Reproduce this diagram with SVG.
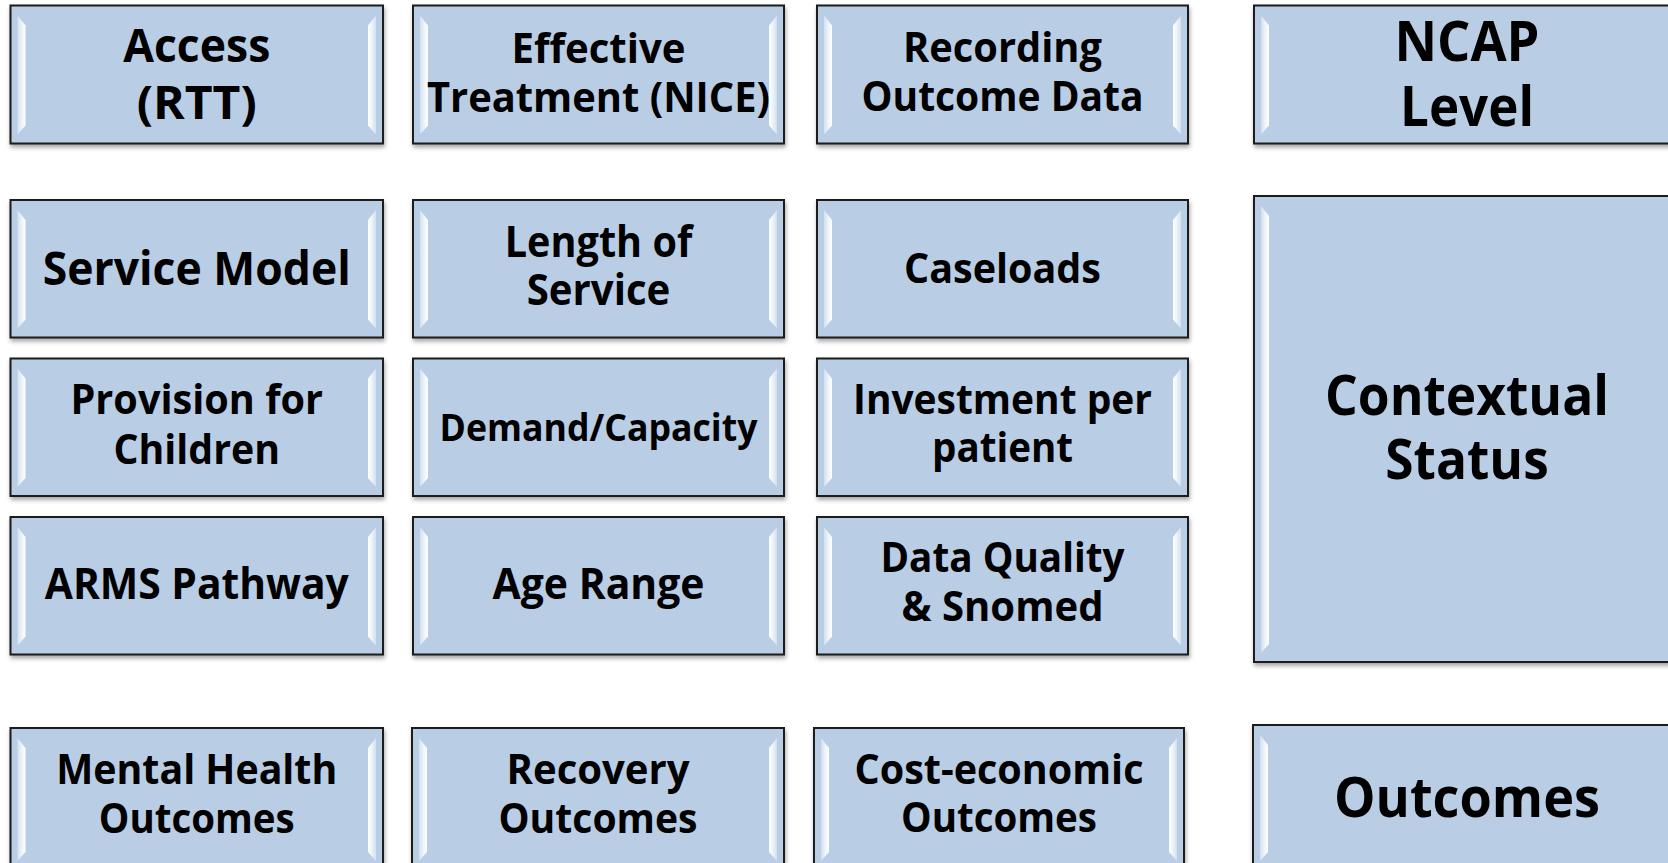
<svg xmlns="http://www.w3.org/2000/svg" width="1668" height="863" viewBox="0 0 1668 863">
<defs>
<filter id="sh" x="-5%" y="-5%" width="110%" height="115%">
<feDropShadow dx="1" dy="3" stdDeviation="2" flood-color="#000" flood-opacity="0.35"/>
</filter>
<linearGradient id="gl" x1="0" y1="0" x2="1" y2="0">
<stop offset="0" stop-color="#d3e0ef"/>
<stop offset="0.55" stop-color="#eef4fa"/>
<stop offset="1" stop-color="#ffffff"/>
</linearGradient>
<linearGradient id="gr" x1="0" y1="0" x2="1" y2="0">
<stop offset="0" stop-color="#ffffff"/>
<stop offset="0.45" stop-color="#eef4fa"/>
<stop offset="1" stop-color="#d3e0ef"/>
</linearGradient>
<style>
.box{fill:#B9CDE5;stroke:#1a1a1a;stroke-width:2;filter:url(#sh)}
.bl{fill:url(#gl)}
.br{fill:url(#gr)}
.t{font-family:"Open Sans","Noto Sans","Liberation Sans",sans-serif;font-weight:700;text-anchor:middle;fill:#000}
</style>
</defs>
<rect width="1668" height="863" fill="#fff"/>
<g id="connectors"></g>

<g id="access">
<rect class="box" x="10.5" y="5.5" width="372.5" height="138"/>
<polygon class="bl" points="17.5,15.5 25.5,25.5 25.5,125.5 17.5,134.5"/>
<polygon class="br" points="368,25.5 376,15.5 376,134.5 368,125.5"/>
<text class="t" font-size="46.9"><tspan x="196.75" y="62" textLength="147" lengthAdjust="spacingAndGlyphs">Access</tspan><tspan x="196.75" y="119" textLength="120" lengthAdjust="spacingAndGlyphs">(RTT)</tspan></text>
</g>

<g id="effective">
<rect class="box" x="413" y="5.5" width="371" height="138"/>
<polygon class="bl" points="420,15.5 428,25.5 428,125.5 420,134.5"/>
<polygon class="br" points="769,25.5 777,15.5 777,134.5 769,125.5"/>
<text class="t" font-size="41.8"><tspan x="598.5" y="62.5" textLength="174" lengthAdjust="spacingAndGlyphs">Effective</tspan><tspan x="598.5" y="111.5" textLength="343" lengthAdjust="spacingAndGlyphs">Treatment (NICE)</tspan></text>
</g>

<g id="recording">
<rect class="box" x="817" y="5.5" width="371" height="138"/>
<polygon class="bl" points="824,15.5 832,25.5 832,125.5 824,134.5"/>
<polygon class="br" points="1173,25.5 1181,15.5 1181,134.5 1173,125.5"/>
<text class="t" font-size="41.6"><tspan x="1002.5" y="62" textLength="199" lengthAdjust="spacingAndGlyphs">Recording</tspan><tspan x="1002.5" y="111" textLength="282" lengthAdjust="spacingAndGlyphs">Outcome Data</tspan></text>
</g>

<g id="ncap">
<rect class="box" x="1254" y="5.5" width="428" height="138"/>
<polygon class="bl" points="1261,15.5 1269,25.5 1269,125.5 1261,134.5"/>
<text class="t" font-size="54.8"><tspan x="1467" y="61" textLength="145" lengthAdjust="spacingAndGlyphs">NCAP</tspan><tspan x="1467" y="126" textLength="134" lengthAdjust="spacingAndGlyphs">Level</tspan></text>
</g>

<g id="service-model">
<rect class="box" x="10.5" y="200" width="372.5" height="137.5"/>
<polygon class="bl" points="17.5,210 25.5,220 25.5,319.5 17.5,328.5"/>
<polygon class="br" points="368,220 376,210 376,328.5 368,319.5"/>
<text class="t" font-size="46"><tspan x="196.75" y="285" textLength="308" lengthAdjust="spacingAndGlyphs">Service Model</tspan></text>
</g>

<g id="length-of-service">
<rect class="box" x="413" y="200" width="371" height="137.5"/>
<polygon class="bl" points="420,210 428,220 428,319.5 420,328.5"/>
<polygon class="br" points="769,220 777,210 777,328.5 769,319.5"/>
<text class="t" font-size="42.4"><tspan x="598.5" y="257" textLength="187.5" lengthAdjust="spacingAndGlyphs">Length of</tspan><tspan x="598.5" y="305" textLength="143.5" lengthAdjust="spacingAndGlyphs">Service</tspan></text>
</g>

<g id="caseloads">
<rect class="box" x="817" y="200" width="371" height="137.5"/>
<polygon class="bl" points="824,210 832,220 832,319.5 824,328.5"/>
<polygon class="br" points="1173,220 1181,210 1181,328.5 1173,319.5"/>
<text class="t" font-size="41.9"><tspan x="1002.5" y="283" textLength="197" lengthAdjust="spacingAndGlyphs">Caseloads</tspan></text>
</g>

<g id="contextual-status">
<rect class="box" x="1254" y="196" width="428" height="466"/>
<polygon class="bl" points="1261,206 1269,216 1269,644 1261,653"/>
<text class="t" font-size="55.4"><tspan x="1467" y="415" textLength="284" lengthAdjust="spacingAndGlyphs">Contextual</tspan><tspan x="1467" y="479" textLength="163.5" lengthAdjust="spacingAndGlyphs">Status</tspan></text>
</g>

<g id="provision">
<rect class="box" x="10.5" y="358.5" width="372.5" height="137.5"/>
<polygon class="bl" points="17.5,368.5 25.5,378.5 25.5,478 17.5,487"/>
<polygon class="br" points="368,378.5 376,368.5 376,487 368,478"/>
<text class="t" font-size="42"><tspan x="196.75" y="413.5" textLength="252.5" lengthAdjust="spacingAndGlyphs">Provision for</tspan><tspan x="196.75" y="463.5" textLength="166.5" lengthAdjust="spacingAndGlyphs">Children</tspan></text>
</g>

<g id="demand-capacity">
<rect class="box" x="413" y="358.5" width="371" height="137.5"/>
<polygon class="bl" points="420,368.5 428,378.5 428,478 420,487"/>
<polygon class="br" points="769,378.5 777,368.5 777,487 769,478"/>
<text class="t" font-size="37.6"><tspan x="598.5" y="441" textLength="318" lengthAdjust="spacingAndGlyphs">Demand/Capacity</tspan></text>
</g>

<g id="investment">
<rect class="box" x="817" y="358.5" width="371" height="137.5"/>
<polygon class="bl" points="824,368.5 832,378.5 832,478 824,487"/>
<polygon class="br" points="1173,378.5 1181,368.5 1181,487 1173,478"/>
<text class="t" font-size="41.4"><tspan x="1002.5" y="414" textLength="299" lengthAdjust="spacingAndGlyphs">Investment per</tspan><tspan x="1002.5" y="462" textLength="141" lengthAdjust="spacingAndGlyphs">patient</tspan></text>
</g>

<g id="arms">
<rect class="box" x="10.5" y="517" width="372.5" height="137.5"/>
<polygon class="bl" points="17.5,527 25.5,537 25.5,636.5 17.5,645.5"/>
<polygon class="br" points="368,537 376,527 376,645.5 368,636.5"/>
<text class="t" font-size="42.2"><tspan x="196.75" y="599" textLength="304" lengthAdjust="spacingAndGlyphs">ARMS Pathway</tspan></text>
</g>

<g id="age-range">
<rect class="box" x="413" y="517" width="371" height="137.5"/>
<polygon class="bl" points="420,527 428,537 428,636.5 420,645.5"/>
<polygon class="br" points="769,537 777,527 777,645.5 769,636.5"/>
<text class="t" font-size="42.7"><tspan x="598.5" y="599" textLength="212" lengthAdjust="spacingAndGlyphs">Age Range</tspan></text>
</g>

<g id="data-quality">
<rect class="box" x="817" y="517" width="371" height="137.5"/>
<polygon class="bl" points="824,527 832,537 832,636.5 824,645.5"/>
<polygon class="br" points="1173,537 1181,527 1181,645.5 1173,636.5"/>
<text class="t" font-size="41.1"><tspan x="1002.5" y="572" textLength="244" lengthAdjust="spacingAndGlyphs">Data Quality</tspan><tspan x="1002.5" y="620.5" textLength="202" lengthAdjust="spacingAndGlyphs">&amp; Snomed</tspan></text>
</g>

<g id="mental-health">
<rect class="box" x="10.5" y="728" width="372.5" height="142"/>
<polygon class="bl" points="17.5,738 25.5,748 25.5,852 17.5,861"/>
<polygon class="br" points="368,748 376,738 376,861 368,852"/>
<text class="t" font-size="41.1"><tspan x="196.75" y="784" textLength="281" lengthAdjust="spacingAndGlyphs">Mental Health</tspan><tspan x="196.75" y="832.5" textLength="196" lengthAdjust="spacingAndGlyphs">Outcomes</tspan></text>
</g>

<g id="recovery">
<rect class="box" x="412" y="728" width="372" height="142"/>
<polygon class="bl" points="419,738 427,748 427,852 419,861"/>
<polygon class="br" points="769,748 777,738 777,861 769,852"/>
<text class="t" font-size="41.8"><tspan x="598" y="784" textLength="183" lengthAdjust="spacingAndGlyphs">Recovery</tspan><tspan x="598" y="832.5" textLength="199" lengthAdjust="spacingAndGlyphs">Outcomes</tspan></text>
</g>

<g id="cost-economic">
<rect class="box" x="814" y="728" width="370" height="142"/>
<polygon class="bl" points="821,738 829,748 829,852 821,861"/>
<polygon class="br" points="1169,748 1177,738 1177,861 1169,852"/>
<text class="t" font-size="41.4"><tspan x="999" y="783.5" textLength="289" lengthAdjust="spacingAndGlyphs">Cost-economic</tspan><tspan x="999" y="832" textLength="196" lengthAdjust="spacingAndGlyphs">Outcomes</tspan></text>
</g>

<g id="outcomes">
<rect class="box" x="1253" y="725" width="429" height="145"/>
<polygon class="bl" points="1260,735 1268,745 1268,852 1260,861"/>
<text class="t" font-size="55.4"><tspan x="1467" y="817" textLength="266" lengthAdjust="spacingAndGlyphs">Outcomes</tspan></text>
</g>
</svg>
